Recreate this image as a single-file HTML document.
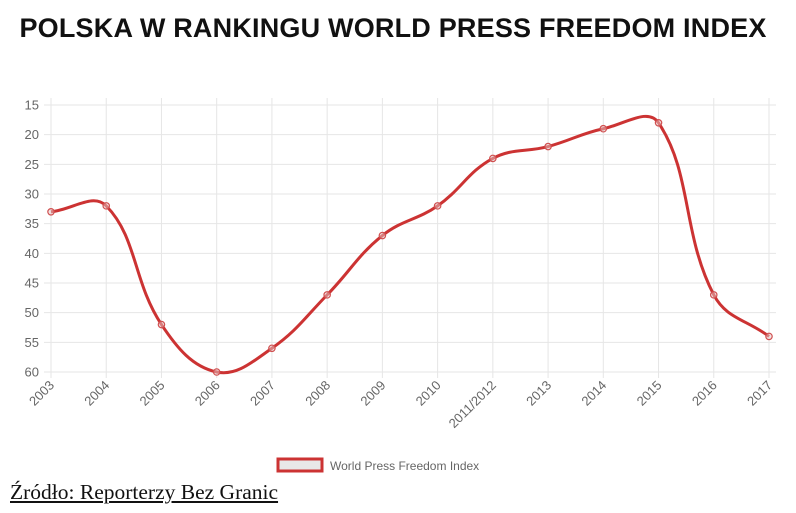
<!DOCTYPE html>
<html><head><meta charset="utf-8"><style>
body{margin:0;background:#fff;width:796px;height:513px;overflow:hidden;position:relative}
#title{position:absolute;left:0;width:786px;top:13px;text-align:center;font:bold 27px "Liberation Sans",sans-serif;color:#111;letter-spacing:0.2px}
#src{position:absolute;left:10px;top:480px;font:21.5px "Liberation Serif",serif;color:#111;text-decoration:underline}
svg{position:absolute;left:0;top:0}
</style></head><body>
<div id="title">POLSKA W RANKINGU WORLD PRESS FREEDOM INDEX</div>
<svg id="c" width="796" height="513"></svg>
<div id="src">Źródło: Reporterzy Bez Granic</div>
<script>
const categories=["2003","2004","2005","2006","2007","2008","2009","2010","2011/2012","2013","2014","2015","2016","2017"];
const values=[33,32,52,60,56,47,37,32,24,22,19,18,47,54];
const yTicks=[15,20,25,30,35,40,45,50,55,60];
const seriesName="World Press Freedom Index";
const NS="http://www.w3.org/2000/svg",svg=document.getElementById('c');
const X0=51,X1=769,Y0=105,Y1=372;
const xs=i=>X0+i*(X1-X0)/(categories.length-1);
const ys=v=>Y0+(v-15)*(Y1-Y0)/45;
function mk(t,a,p){const e=document.createElementNS(NS,t);for(const k in a)e.setAttribute(k,a[k]);(p||svg).appendChild(e);return e;}
yTicks.forEach(t=>{
 const l=mk('line',{x1:44,x2:776,y1:ys(t),y2:ys(t),stroke:'#e6e6e6','stroke-width':1});
 
 
 const tx=mk('text',{x:39,y:ys(t)+4.5,'text-anchor':'end','font-family':'Liberation Sans,sans-serif','font-size':13,fill:'#666'});
 tx.textContent=t;
 
 
});
categories.forEach((c,i)=>{
 const x=xs(i);
 const l=mk('line',{x1:x,x2:x,y1:98,y2:378,stroke:'#e6e6e6','stroke-width':1});
 
 
 const tx=mk('text',{x:x+4,y:386,'text-anchor':'end',transform:`rotate(-45 ${x+4} 386)`,'font-family':'Liberation Sans,sans-serif','font-size':13,fill:'#666'});
 tx.textContent=c;
 
 
});
const pts=values.map((v,i)=>[xs(i),ys(v)]);
let d=`M${pts[0][0]},${pts[0][1]}`;const T=0.4;
const cps=pts.map((p,i)=>{const a=pts[i-1]||p,b=pts[i+1]||p;
 const d01=Math.hypot(p[0]-a[0],p[1]-a[1]),d12=Math.hypot(b[0]-p[0],b[1]-p[1]);
 let fa=d01/(d01+d12)||0,fb=d12/(d01+d12)||0;fa*=T;fb*=T;
 return {p:[p[0]-fa*(b[0]-a[0]),p[1]-fa*(b[1]-a[1])],n:[p[0]+fb*(b[0]-a[0]),p[1]+fb*(b[1]-a[1])]};});
for(let i=1;i<pts.length;i++){d+=` C${cps[i-1].n[0]},${cps[i-1].n[1]} ${cps[i].p[0]},${cps[i].p[1]} ${pts[i][0]},${pts[i][1]}`;}
const line=mk('path',{d,fill:'none',stroke:'#cc3333','stroke-width':3});


pts.forEach(p=>{const c=mk('circle',{cx:p[0],cy:p[1],r:3.2,fill:'rgba(230,200,200,0.5)',stroke:'#d05050','stroke-width':1.2});
 
 });
const lb=mk('rect',{x:278,y:459,width:44,height:12,fill:'#e8e8e8',stroke:'#cc3333','stroke-width':3});


const lt=mk('text',{x:330,y:470,'font-family':'Liberation Sans,sans-serif','font-size':12,fill:'#666'});
lt.textContent=seriesName;


</script>
</body></html>
